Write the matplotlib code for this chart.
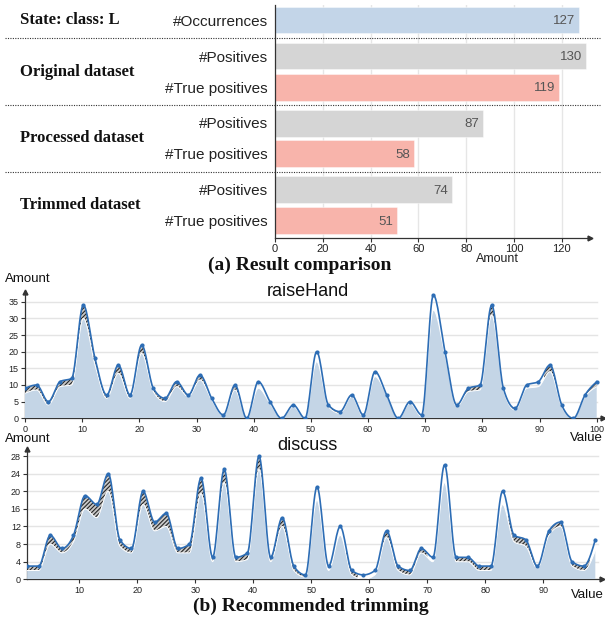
import numpy as np
import matplotlib
matplotlib.use("Agg")
import matplotlib.pyplot as plt

plt.rcParams['font.family'] = ['Liberation Sans', 'DejaVu Sans']
plt.rcParams['hatch.linewidth'] = 0.8

# ---------------- data: (a) result comparison ----------------
row_labels = ["#Occurrences", "#Positives", "#True positives",
              "#Positives", "#True positives", "#Positives", "#True positives"]
row_kinds = ["occ", "pos", "tp", "pos", "tp", "pos", "tp"]
row_values = [127, 130, 119, 87, 58, 74, 51]
group_labels = ["State: class: L", "Original dataset", "Processed dataset", "Trimmed dataset"]
group_sizes = [1, 2, 2, 2]
bar_ticks = [0, 20, 40, 60, 80, 100, 120]

# ---------------- data: (b) recommended trimming ----------------
rh_orig = [9, 10, 5, 11, 12, 34, 18, 7, 16, 7, 22, 9, 6, 11, 7, 13, 6, 1, 10, 0,
           11, 5, 0, 4, 0, 20, 4, 2, 7, 1, 14, 7, 0, 5, 1, 37, 20, 4, 9, 10,
           34, 9, 3, 10, 11, 16, 4, 0, 7, 11]
rh_trim = [7.5, 8.5, 4, 9.5, 10, 30, 16, 6, 13.5, 6, 19.5, 8, 5, 9.5, 6.5, 11.5, 5.5, 0.8, 8.5, 0,
           9, 4.5, 0, 3.5, 0, 17, 3.5, 1.5, 6.5, 0.5, 12.5, 7, 0, 4.5, 0.5, 32.5, 19, 3.5, 8, 8.5,
           31, 8.5, 2.5, 9, 9.5, 14, 3.5, 0, 6.5, 9.5]
rh_hatch = [1]*19 + [0]*7 + [1]*3 + [0]*9 + [1]*5 + [0]*2 + [1]*2 + [0] + [1]*2

dc_orig = [3, 3, 10, 7, 10, 19, 17, 24, 9, 7, 20, 13, 15, 7, 8, 23, 5, 25, 5, 6,
           28, 5, 14, 3, 1, 21, 3, 12, 2, 1, 2, 11, 3, 2, 7, 5, 26, 5, 5, 3,
           3, 20, 10, 9, 3, 11, 13, 4, 3, 9]
dc_trim = [2, 2, 8, 6, 8.5, 16, 14, 20, 7.5, 6, 17, 11, 12, 6, 6, 19.5, 4, 22, 4, 4.5,
           25, 4, 12, 2, 0.5, 18, 2, 10, 1, 0, 1, 9.5, 2, 1, 6, 4, 22, 4, 4, 2,
           2, 17, 8.5, 7.5, 2.5, 10, 12, 3, 2, 6.5]
dc_hatch = [1]*25 + [0]*3 + [1] + [0]*2 + [1]*4 + [0]*2 + [1]*4 + [0] + [1]*7 + [0]

rh_x = np.linspace(0, 100, len(rh_orig))
dc_x = np.linspace(1, 99, len(dc_orig))

# ---------------- styles ----------------
C_OCC = '#c3d5e8'
C_POS = '#d5d5d5'
C_TP = '#f8b4ab'
kind_color = {"occ": C_OCC, "pos": C_POS, "tp": C_TP}
C_LINE = '#2d6db5'
C_AREA = '#c4d5e6'
C_AX = '#333333'
SERIF = ['Liberation Serif', 'DejaVu Serif']

fig = plt.figure(figsize=(6.05, 6.2), dpi=100)

def fr(l, t, r, b):
    return [l / 605, 1 - b / 620, (r - l) / 605, (b - t) / 620]

# ================= (a) bar chart =================
ax1 = fig.add_axes(fr(275, 5, 590, 238))
unit = 31.0
gap = 5.0 / unit
pos = []
group_centers = []
cur = 0.0
for gi, n in enumerate(group_sizes):
    start = cur
    for k in range(n):
        pos.append(cur)
        cur += 1.0
    group_centers.append((start + cur - 1.0) / 2)
    cur += gap
sep_pos = [(pos[sum(group_sizes[:g]) - 1] + pos[sum(group_sizes[:g])]) / 2
           for g in range(1, len(group_sizes))]

ax1.set_xlim(0, 131.8)
ax1.set_ylim((238 - 20) / unit, (5 - 20) / unit)
for t in bar_ticks[1:]:
    ax1.axvline(t, color='#e6e6e6', lw=1.0, zorder=0)
ax1.barh(pos, row_values, height=27 / unit,
         color=[kind_color[k] for k in row_kinds], zorder=2,
         edgecolor=[matplotlib.colors.to_rgba('white', 0.5)] * len(pos), linewidth=0.6)
for p, v in zip(pos, row_values):
    ax1.text(v - 1.5, p + 0.04, str(v), ha='right', va='center', fontsize=9.5, color='#555555', zorder=3)
ax1.set_yticks(pos)
ax1.set_yticklabels(row_labels, fontsize=11, color='#222222')
ax1.tick_params(axis='y', length=0, pad=5)
ax1.set_xticks(bar_ticks)
ax1.set_xticklabels([str(t) for t in bar_ticks], fontsize=8, color='#222222')
ax1.tick_params(axis='x', length=3, width=0.8, color=C_AX, pad=1.5)
for s in ['top', 'right']:
    ax1.spines[s].set_visible(False)
for s in ['left', 'bottom']:
    ax1.spines[s].set_color(C_AX)
    ax1.spines[s].set_linewidth(0.9)
ax1.plot([1], [0], marker='>', transform=ax1.transAxes, clip_on=False, color=C_AX, ms=3.5, zorder=5)
ytr = ax1.get_yaxis_transform()
for sp in sep_pos:
    ax1.plot([(5 - 275) / 315, (600 - 275) / 315], [sp, sp], transform=ytr, clip_on=False,
             color='#333333', lw=0.8, linestyle=(0, (1, 1.2)), zorder=4)
for gl, gc in zip(group_labels, group_centers):
    ax1.text((20 - 275) / 315, gc, gl, transform=ytr, ha='left', va='center',
             fontsize=12, fontweight='bold', family=SERIF, color='#111111')
ax1.text(93, 1 - (259 - 5) / 233, 'Amount', transform=ax1.get_xaxis_transform(),
         ha='center', va='center', fontsize=9, color='#222222')
fig.text(300 / 605, 1 - 265 / 620, '(a) Result comparison', ha='center', va='center',
         fontsize=14, fontweight='bold', family=SERIF, color='#111111')

# ================= (b) area charts =================
def monotone(x, y, n=16):
    x = np.asarray(x, float)
    y = np.asarray(y, float)
    h = np.diff(x)
    s = np.diff(y) / h
    t = np.zeros_like(y)
    for i in range(1, len(x) - 1):
        p = (s[i - 1] * h[i] + s[i] * h[i - 1]) / (h[i - 1] + h[i])
        t[i] = (np.sign(s[i - 1]) + np.sign(s[i])) * min(abs(s[i - 1]), abs(s[i]), 0.5 * abs(p))
    t[0] = (3 * s[0] - t[1]) / 2
    t[-1] = (3 * s[-1] - t[-2]) / 2
    xs, ys = [], []
    u = np.linspace(0, 1, n, endpoint=False)
    for i in range(len(x) - 1):
        h00 = 2 * u**3 - 3 * u**2 + 1
        h10 = u**3 - 2 * u**2 + u
        h01 = -2 * u**3 + 3 * u**2
        h11 = u**3 - u**2
        xs.append(x[i] + u * h[i])
        ys.append(h00 * y[i] + h10 * h[i] * t[i] + h01 * y[i + 1] + h11 * h[i] * t[i + 1])
    xs.append([x[-1]])
    ys.append([y[-1]])
    return np.concatenate(xs), np.concatenate(ys)

def area_panel(rect, x, orig, trim, hatch, xlim, ylim, xticks, yticks, gx_end, title, title_xy,
               amount_xy, value_xy):
    ax = fig.add_axes(rect)
    ax.set_xlim(*xlim)
    ax.set_ylim(*ylim)
    for yt in yticks[1:]:
        ax.plot([xlim[0], gx_end], [yt, yt], color='#e4e4e4', lw=1.0, zorder=0)
    xs, os_ = monotone(x, orig)
    _, ts = monotone(x, trim)
    ts = np.minimum(np.maximum(ts, 0), os_)
    idx = np.clip(np.round((xs - x[0]) / (x[1] - x[0])).astype(int), 0, len(x) - 1)
    mask = np.asarray(hatch, bool)[idx]
    ax.fill_between(xs, ts, os_, where=mask, facecolor='#c8c8c8', edgecolor='#262626',
                    hatch='////////', linewidth=0, zorder=2)
    ax.fill_between(xs, 0, ts, facecolor=C_AREA, linewidth=0, zorder=3)
    ax.plot(xs, ts, color='white', lw=0.7, zorder=3.5)
    ax.plot(xs, os_, color=C_LINE, lw=1.2, zorder=4)
    ax.plot(x, orig, 'o', ms=2.0, color=C_LINE, zorder=5)
    ax.set_xticks(xticks)
    ax.set_yticks(yticks)
    ax.tick_params(labelsize=6.5, length=3, width=0.8, color=C_AX, labelcolor='#222222', pad=1.5)
    for s in ['top', 'right']:
        ax.spines[s].set_visible(False)
    for s in ['left', 'bottom']:
        ax.spines[s].set_color(C_AX)
        ax.spines[s].set_linewidth(0.9)
    ax.plot([1], [0], marker='>', transform=ax.transAxes, clip_on=False, color=C_AX, ms=3.5, zorder=6)
    ax.plot([0], [1], marker='^', transform=ax.transAxes, clip_on=False, color=C_AX, ms=3.5, zorder=6)
    fig.text(title_xy[0] / 605, 1 - title_xy[1] / 620, title, ha='center', va='center',
             fontsize=13, color='#111111')
    fig.text(amount_xy[0] / 605, 1 - amount_xy[1] / 620, 'Amount', ha='left', va='center',
             fontsize=9.5, color='#111111')
    fig.text(value_xy[0] / 605, 1 - value_xy[1] / 620, 'Value', ha='right', va='center',
             fontsize=9.5, color='#111111')
    return ax

area_panel(fr(25, 291.7, 603, 418.3), rh_x, rh_orig, rh_trim, rh_hatch,
           (0, 101.1), (0, 38), list(range(0, 101, 10)), list(range(0, 36, 5)), 100,
           'raiseHand', (308, 292), (5, 279), (603, 438))
area_panel(fr(27.1, 449, 601.7, 579.3), dc_x, dc_orig, dc_trim, dc_hatch,
           (1, 100.1), (0, 29.6), list(range(10, 91, 10)), list(range(0, 29, 4)), 99.4,
           'discuss', (307, 446), (5, 439), (604, 595))

fig.text(311 / 605, 1 - 606 / 620, '(b) Recommended trimming', ha='center', va='center',
         fontsize=14, fontweight='bold', family=SERIF, color='#111111')

fig.savefig('out.png', dpi=100)
